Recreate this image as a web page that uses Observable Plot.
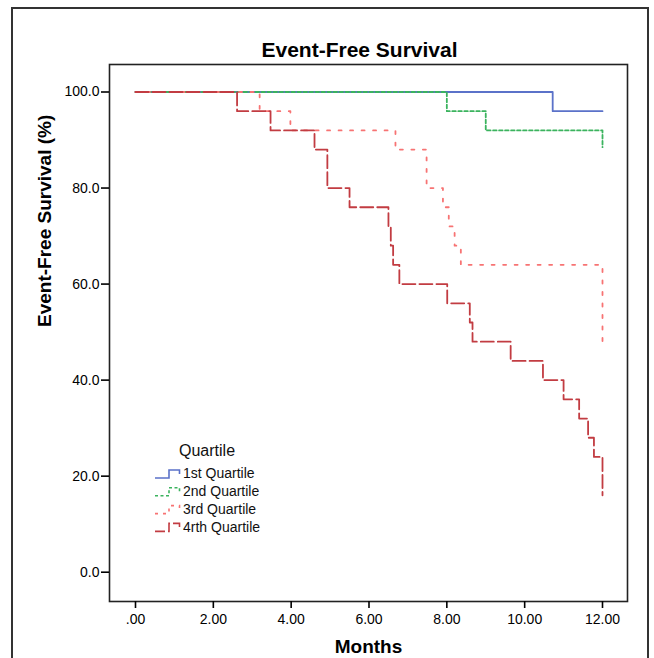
<!DOCTYPE html>
<html><head><meta charset="utf-8">
<script src="https://cdn.jsdelivr.net/npm/d3@7"></script>
<script src="https://cdn.jsdelivr.net/npm/@observablehq/plot@0.6"></script>
<style>
body{margin:0;background:#fff;}
#wrap{position:relative;width:654px;height:658px;overflow:hidden;font-family:"Liberation Sans",Arial,sans-serif;}
#wrap svg{position:absolute;left:0;top:0;}
#outer{position:absolute;left:11px;top:7px;width:638px;height:720px;border:2px solid #333;box-sizing:border-box;pointer-events:none;}
</style></head><body>
<div id="wrap"><div id="outer"></div></div>
<script>
// ---- data ----
const chartTitle = "Event-Free Survival";
const xTitle = "Months";
const yTitle = "Event-Free Survival (%)";
const legendTitle = "Quartile";
const quartiles = ["1st Quartile", "2nd Quartile", "3rd Quartile", "4rth Quartile"];
const xTicks = [0, 2, 4, 6, 8, 10, 12];
const yTicks = [0, 20, 40, 60, 80, 100];

const q1Months = [0, 10.72, 12];
const q1Surv   = [100, 96, 96];
const q2Months = [0, 8.0, 9.0, 12];
const q2Surv   = [100, 96, 92, 88.5];
const q3Months = [0, 3.19, 3.98, 6.68, 7.48, 7.9, 8.05, 8.2, 8.36, 12];
const q3Surv   = [100, 96, 92, 88, 80, 76, 72, 68, 64, 47];
const q4Months = [0, 2.61, 3.47, 4.6, 4.93, 5.5, 6.5, 6.56, 6.62, 6.78, 8.01, 8.59, 8.66, 9.64, 10.47, 11.0, 11.4, 11.63, 11.78, 12];
const q4Surv   = [100, 96, 92, 88, 80, 76, 72, 68, 64, 60, 56, 52, 48, 44, 40, 36, 32, 28, 24, 16];

// ---- styles ----
const colors = ["#5b72c9", "#3bb35e", "#f77373", "#c23c42"];
const dashes = [null, "3.5,2.5", "3,8.5", "13,4"];

const monthsList = [q1Months, q2Months, q3Months, q4Months];
const survList = [q1Surv, q2Surv, q3Surv, q4Surv];
const series = quartiles.map((q, i) => ({
  name: q,
  rows: monthsList[i].map((m, j) => ({quartile: q, month: m, surv: survList[i][j]}))
}));

const fontFamily = "'Liberation Sans', Arial, sans-serif";

const lineMarks = series.map((s, i) => Plot.line(s.rows, {
  x: "month", y: "surv", curve: "step-after",
  stroke: colors[i], strokeWidth: 1.8,
  strokeDasharray: dashes[i] || undefined
}));

const plot = Plot.plot({
  width: 654, height: 658,
  marginLeft: 109, marginRight: 27, marginTop: 64, marginBottom: 57,
  x: {domain: [0, 12], range: [135, 602]},
  y: {domain: [0, 100], range: [571.7, 91.5]},
  style: {fontFamily, fontSize: "14px", background: "transparent", color: "#000", overflow: "visible"},
  marks: [
    Plot.frame({stroke: "#222", strokeWidth: 1.6}),
    Plot.axisY({ticks: yTicks, tickFormat: d3.format(".1f"), tickSize: 8, tickPadding: 2, label: null, fontSize: 14, strokeWidth: 1.6}),
    Plot.axisX({ticks: xTicks, tickFormat: d => d === 0 ? ".00" : d3.format(".2f")(d), tickSize: 7, tickPadding: 6, label: null, fontSize: 14, strokeWidth: 1.6}),
    ...lineMarks,
    Plot.text([chartTitle], {text: d => d, frameAnchor: "top", lineAnchor: "middle", dx: -9, dy: -14, fontSize: 21, fontWeight: "bold"}),
    Plot.text([xTitle], {text: d => d, frameAnchor: "bottom", lineAnchor: "middle", dy: 45, fontSize: 19, fontWeight: "bold"}),
    Plot.text([yTitle], {text: d => d, frameAnchor: "left", lineAnchor: "middle", dx: -65, dy: -6, rotate: -90, fontSize: 19, fontWeight: "bold"})
  ]
});
const wrap = document.getElementById("wrap");
wrap.insertBefore(plot, wrap.firstChild);

// ---- legend overlay ----
const leg = d3.select(wrap).append("svg")
  .attr("width", 654).attr("height", 658)
  .style("position", "absolute").style("left", "0px").style("top", "0px")
  .style("font-family", fontFamily);
leg.append("text").attr("x", 179).attr("y", 450).attr("dy", "0.35em")
  .attr("font-size", 16).attr("fill", "#111").text(legendTitle);
quartiles.forEach((q, i) => {
  const c = 473.5 + i * 17.8;
  leg.append("path")
    .attr("d", `M155,${c + 4.5}H169V${c - 3.5}H179.5V${c + 0.5}`)
    .attr("fill", "none").attr("stroke", colors[i]).attr("stroke-width", 1.6)
    .attr("stroke-dasharray", i === 0 ? null : (i === 3 ? "10,3" : (i === 1 ? "3,2.5" : "3,5")));
  leg.append("text").attr("x", 183).attr("y", c).attr("dy", "0.35em")
    .attr("font-size", 14).attr("fill", "#111").text(q);
});
</script>
</body></html>
